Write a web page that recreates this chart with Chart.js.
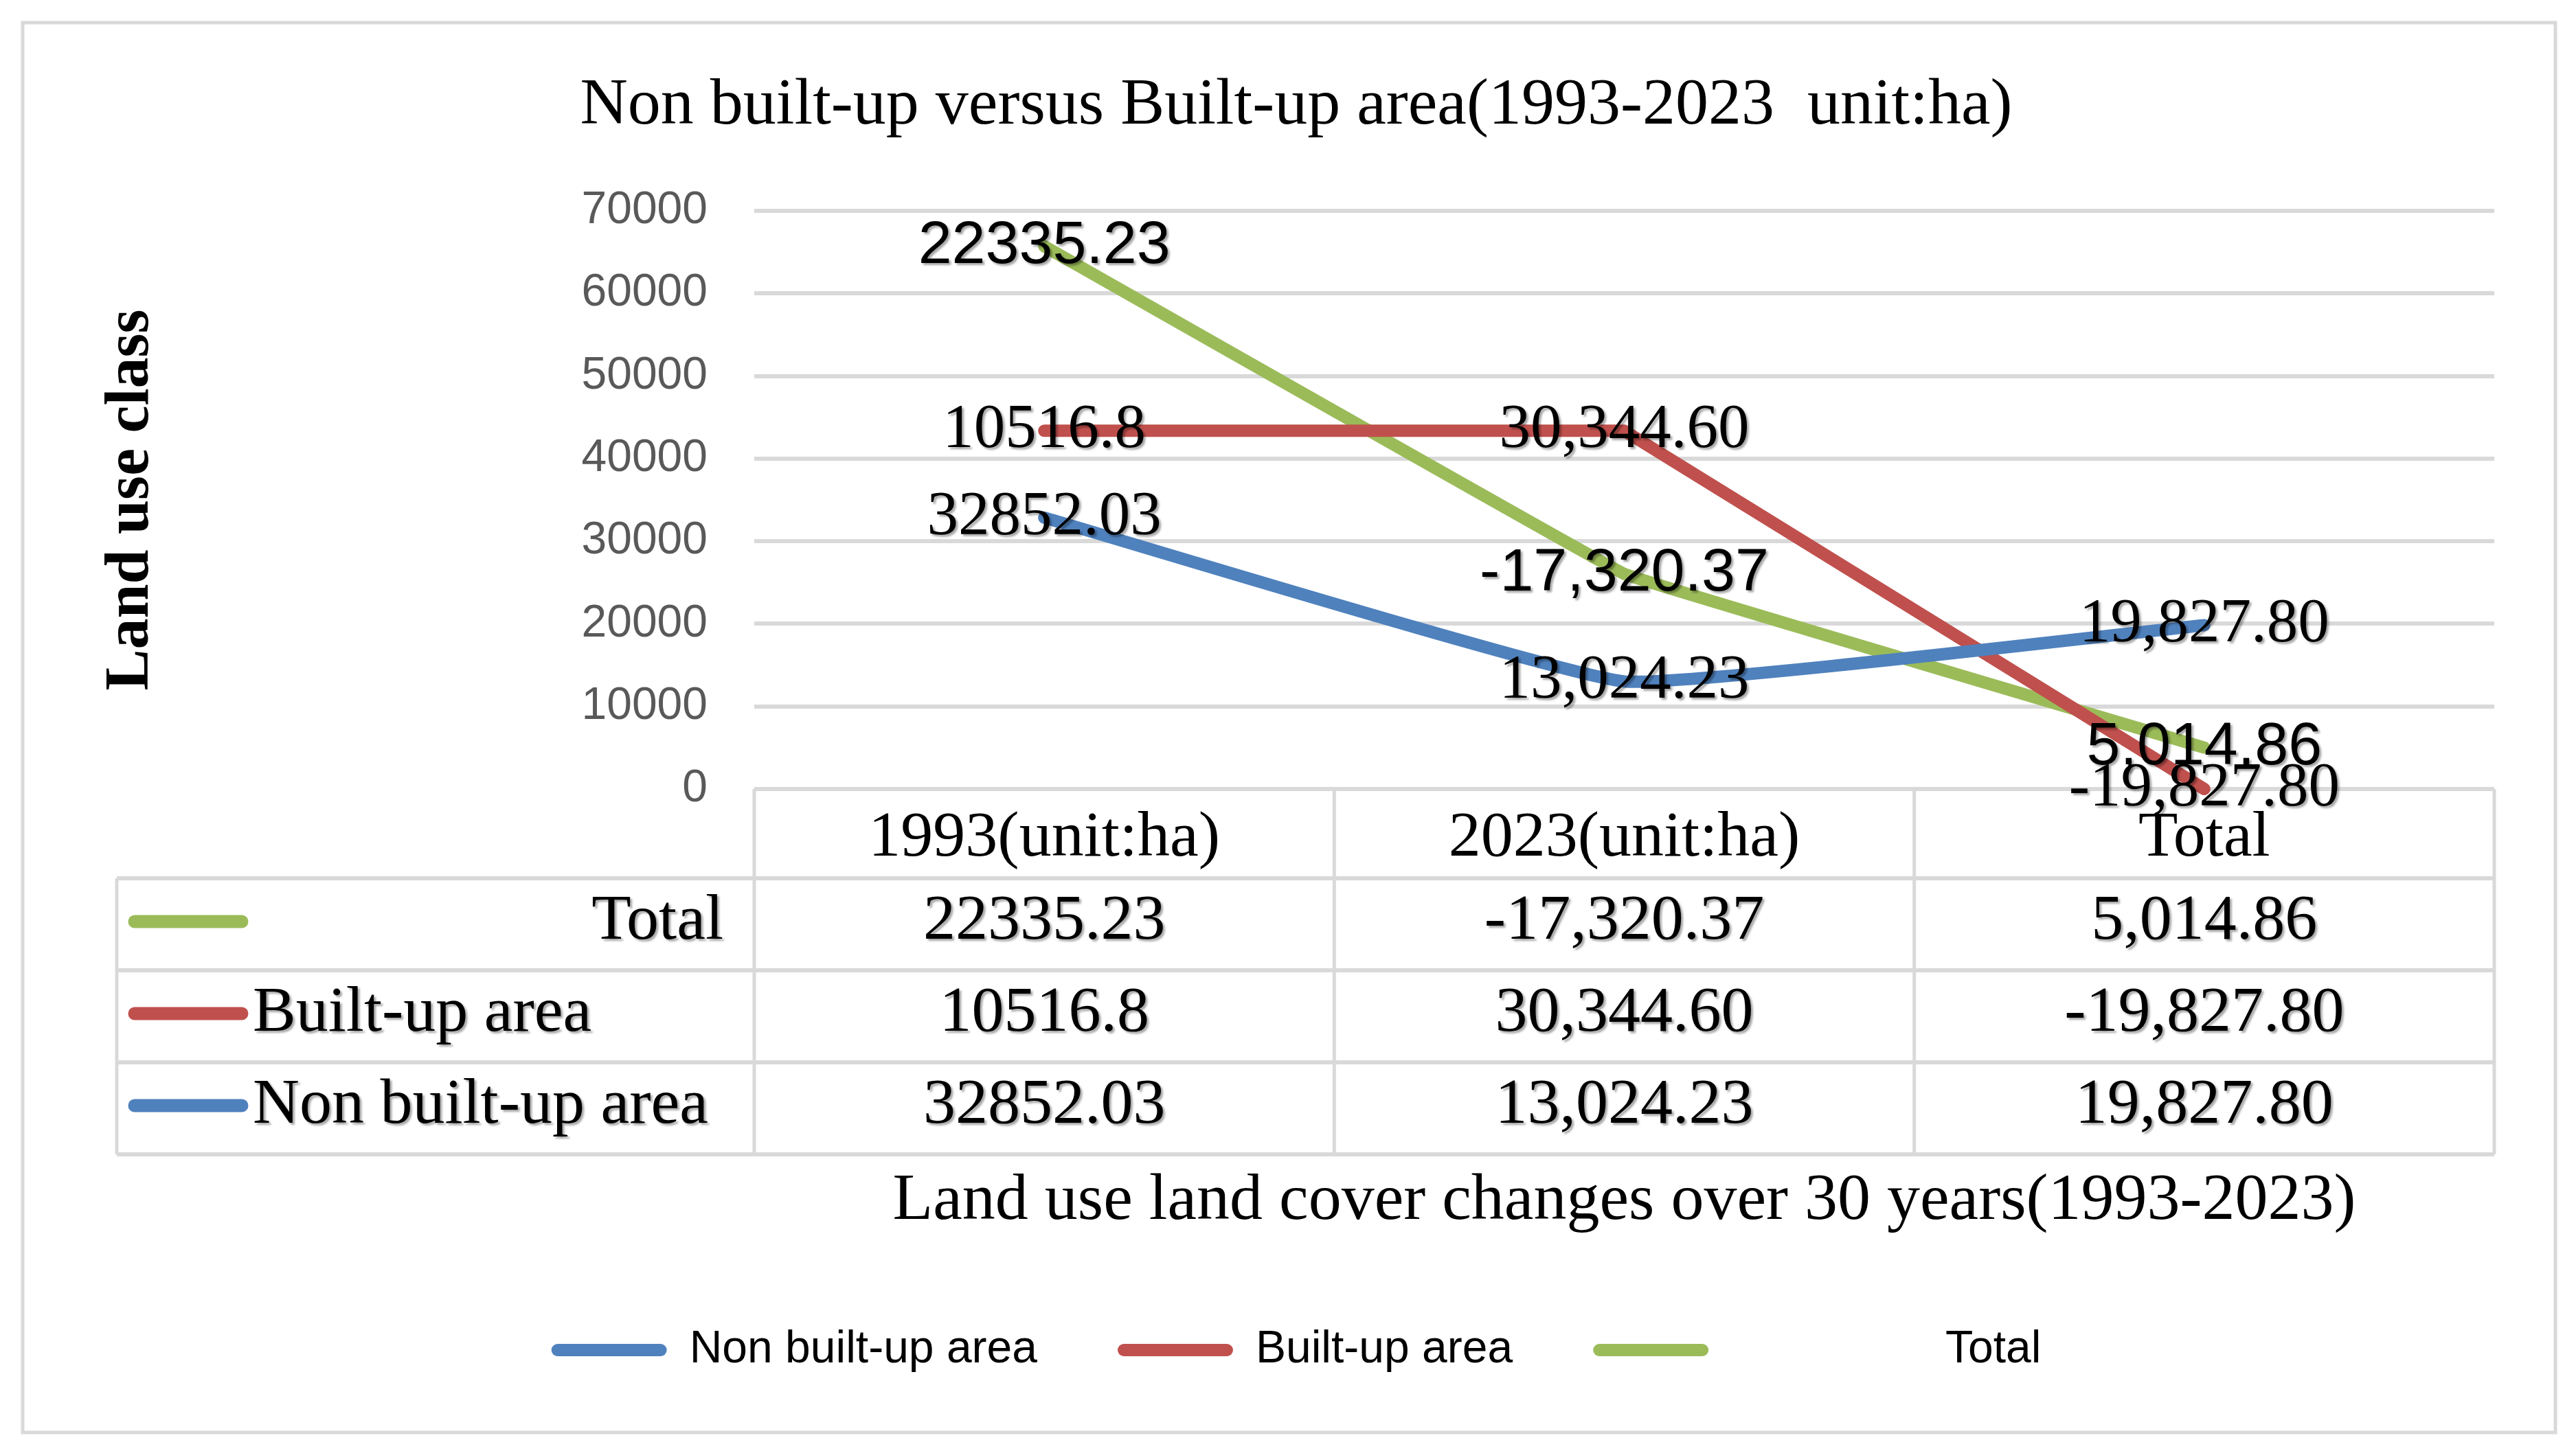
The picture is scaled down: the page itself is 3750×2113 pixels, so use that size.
<!DOCTYPE html>
<html>
<head>
<meta charset="utf-8">
<script src="https://cdn.jsdelivr.net/npm/chart.js@4.4.0/dist/chart.umd.min.js"></script>
<style>
  html, body { margin: 0; padding: 0; background: #fff; }
  canvas { display: block; }
</style>
</head>
<body>
<canvas id="landChart" width="3750" height="2113"></canvas>
<script>
// data (stacked lines + data table)
const categories = ['1993(unit:ha)', '2023(unit:ha)', 'Total'];
const seriesNames = ['Non built-up area', 'Built-up area', '                 Total'];
const nonBuiltUp = [32852.03, 13024.23, 19827.80];
const builtUp = [10516.8, 30344.60, -19827.80];
const totalChange = [22335.23, -17320.37, 5014.86];
const numberStyle = ['plain', 'comma', 'comma'];
const yMin = 0;
const yMax = 70000;
const yStep = 10000;

const serif = "'Liberation Serif', 'Times New Roman', serif";
const sans = "'Liberation Sans', Arial, sans-serif";
const seriesColors = ['#4F81BD', '#C0504D', '#9BBB59'];
const gridGray = '#D9D9D9';

function formatValue(v, i) {
    if (numberStyle[i] === 'plain') return String(v);
    return v.toLocaleString('en-US', { minimumFractionDigits: 2, maximumFractionDigits: 2 });
}

function setShadow(ctx) {
    ctx.shadowColor = 'rgba(0, 0, 0, 0.35)';
    ctx.shadowOffsetX = 3;
    ctx.shadowOffsetY = 3;
    ctx.shadowBlur = 3;
}

const frame = {
    id: 'frame',
    beforeDraw(chart) {
        const ctx = chart.ctx;
        ctx.save();
        ctx.fillStyle = '#fff';
        ctx.fillRect(0, 0, chart.width, chart.height);
        ctx.strokeStyle = gridGray;
        ctx.lineWidth = 5;
        ctx.strokeRect(33, 33, 3687, 2053);
        ctx.restore();
    }
};

// data table under the plot, same columns as the x scale
const headerHeight = 130;
const rowHeight = 134;
const tableLeft = 170;

function tableGeometry(chart) {
    const x = chart.scales.x;
    const half = (x.getPixelForValue(1) - x.getPixelForValue(0)) / 2;
    const edges = [x.getPixelForValue(0) - half];
    categories.forEach((c, i) => edges.push(x.getPixelForValue(i) + half));
    const top = chart.chartArea.bottom;
    const rowTops = [];
    for (let r = 0; r < 3; r++) rowTops.push(top + headerHeight + r * rowHeight);
    return { x, edges, top, rowTops, bottom: top + headerHeight + 3 * rowHeight };
}

const dataTable = {
    id: 'dataTable',
    beforeDatasetsDraw(chart) {
        const ctx = chart.ctx;
        const g = tableGeometry(chart);
        const right = g.edges[g.edges.length - 1];
        ctx.save();
        ctx.strokeStyle = gridGray;
        ctx.lineWidth = 6;
        ctx.beginPath();
        ctx.moveTo(g.edges[0], g.top);
        ctx.lineTo(right, g.top);
        g.rowTops.concat([g.bottom]).forEach(y => {
            ctx.moveTo(tableLeft, y);
            ctx.lineTo(right, y);
        });
        ctx.stroke();
        ctx.lineWidth = 5;
        ctx.beginPath();
        ctx.moveTo(tableLeft, g.rowTops[0]);
        ctx.lineTo(tableLeft, g.bottom);
        g.edges.forEach(ex => {
            ctx.moveTo(ex, g.top);
            ctx.lineTo(ex, g.bottom);
        });
        ctx.stroke();
        ctx.restore();
    },
    afterDatasetsDraw(chart) {
        const ctx = chart.ctx;
        const g = tableGeometry(chart);
        const rows = [2, 1, 0]; // Total first, like the Excel table
        ctx.save();
        ctx.font = '94px ' + serif;
        ctx.textBaseline = 'middle';
        rows.forEach((di, r) => {
            const ds = chart.data.datasets[di];
            const cy = g.rowTops[r] + rowHeight / 2 - 4;
            ctx.save();
            ctx.strokeStyle = ds.borderColor;
            ctx.lineWidth = 19;
            ctx.lineCap = 'round';
            ctx.beginPath();
            ctx.moveTo(196, cy);
            ctx.lineTo(352, cy);
            ctx.stroke();
            ctx.restore();
            setShadow(ctx);
            ctx.fillStyle = '#000';
            const name = ds.label;
            if (name.trim() !== name) {
                ctx.textAlign = 'right';
                ctx.fillText(name.trim(), g.edges[0] - 45, cy);
            } else {
                ctx.textAlign = 'left';
                ctx.fillText(name, 368, cy);
            }
            ctx.textAlign = 'center';
            ds.data.forEach((v, i) => {
                ctx.fillText(formatValue(v, i), g.x.getPixelForValue(i), cy);
            });
            ctx.shadowColor = 'transparent';
        });
        ctx.restore();
    }
};

const valueLabels = {
    id: 'valueLabels',
    afterDatasetsDraw(chart) {
        const ctx = chart.ctx;
        ctx.save();
        setShadow(ctx);
        ctx.fillStyle = '#000';
        ctx.textAlign = 'center';
        ctx.textBaseline = 'middle';
        chart.data.datasets.forEach((ds, di) => {
            const meta = chart.getDatasetMeta(di);
            ctx.font = ds.labelFont;
            meta.data.forEach((pt, i) => {
                ctx.fillText(formatValue(ds.data[i], i), pt.x, pt.y);
            });
        });
        ctx.restore();
    }
};

function makeSeries(label, data, color, labelFont, tension) {
    return {
        label: label,
        data: data,
        borderColor: color,
        backgroundColor: color,
        borderWidth: 18,
        borderCapStyle: 'round',
        borderJoinStyle: 'round',
        pointRadius: 0,
        pointHoverRadius: 0,
        tension: tension,
        fill: false,
        clip: false,
        labelFont: labelFont
    };
}

const chart = new Chart(document.getElementById('landChart'), {
    type: 'line',
    data: {
        labels: categories,
        datasets: [
            makeSeries(seriesNames[0], nonBuiltUp, seriesColors[0], '91px ' + serif, 0.1),
            makeSeries(seriesNames[1], builtUp, seriesColors[1], '91px ' + serif, 0),
            makeSeries(seriesNames[2], totalChange, seriesColors[2], '88px ' + sans, 0.03)
        ]
    },
    options: {
        responsive: false,
        animation: false,
        devicePixelRatio: 1,
        events: [],
        layout: {
            padding: { left: 143, right: 119, top: 0, bottom: 104 }
        },
        plugins: {
            title: {
                display: true,
                text: 'Non built-up versus Built-up area(1993-2023  unit:ha)',
                color: '#000',
                font: { family: serif, size: 96, weight: 'normal' },
                padding: { top: 97, bottom: 94.8 }
            },
            legend: {
                position: 'bottom',
                labels: {
                    boxWidth: 168,
                    boxHeight: 18,
                    padding: 117,
                    color: '#000',
                    font: { family: sans, size: 66 },
                    useBorderRadius: true,
                    borderRadius: 9,
                    generateLabels(c) {
                        return c.data.datasets.map((ds, i) => ({
                            text: ds.label,
                            fillStyle: ds.borderColor,
                            strokeStyle: ds.borderColor,
                            lineWidth: 0,
                            borderRadius: 9,
                            hidden: false,
                            datasetIndex: i
                        }));
                    }
                }
            },
            tooltip: { enabled: false }
        },
        scales: {
            x: {
                offset: true,
                grid: { display: false },
                border: { display: false },
                ticks: {
                    color: '#000',
                    font: { family: serif, size: 94 },
                    padding: 8,
                    maxRotation: 0,
                    autoSkip: false
                },
                title: {
                    display: true,
                    text: 'Land use land cover changes over 30 years(1993-2023)',
                    color: '#000',
                    font: { family: serif, size: 96 },
                    padding: { top: 0, bottom: 9 }
                },
                afterFit(scale) { scale.height = 667; }
            },
            y: {
                stacked: 'single',
                min: yMin,
                max: yMax,
                grid: { color: gridGray, lineWidth: 6, drawTicks: false },
                border: { display: false },
                ticks: {
                    stepSize: yStep,
                    color: '#595959',
                    font: { family: sans, size: 66 },
                    padding: 68,
                    callback: v => String(v)
                },
                title: {
                    display: true,
                    text: 'Land use class',
                    color: '#000',
                    font: { family: serif, size: 90, weight: 'bold', lineHeight: 1.08 },
                    padding: 0
                },
                afterFit(scale) { scale.width = 955; }
            }
        }
    },
    plugins: [frame, dataTable, valueLabels]
});
</script>
</body>
</html>
